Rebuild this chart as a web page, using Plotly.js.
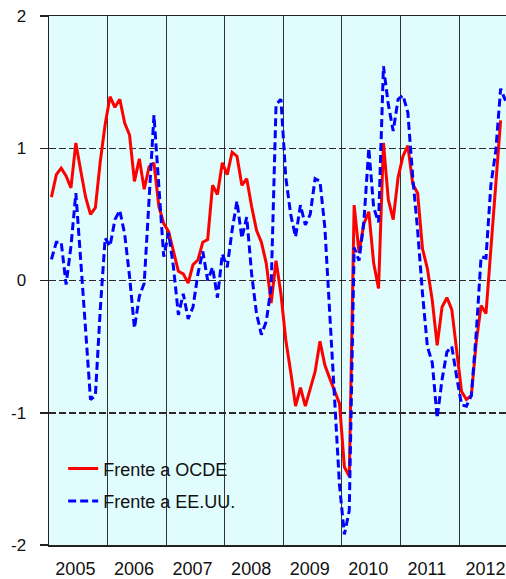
<!DOCTYPE html>
<html>
<head>
<meta charset="utf-8">
<script src="https://cdn.plot.ly/plotly-3.0.1.min.js"></script>
<style>html,body{margin:0;padding:0;background:#fff;}#chart{width:506px;height:579px;}</style>
</head>
<body>
<div id="chart"></div>
<script>
// Monthly series starting January 2005
const startYear = 2005;
const seriesNames = ['Frente a OCDE', 'Frente a EE.UU.'];
const ocde = [
  0.63, 0.80, 0.85, 0.79, 0.70, 1.04, 0.83, 0.63, 0.50, 0.55, 0.90, 1.18,
  1.39, 1.31, 1.37, 1.19, 1.10, 0.75, 0.92, 0.69, 0.86, 0.89, 0.56, 0.43,
  0.37, 0.21, 0.07, 0.05, -0.02, 0.12, 0.155, 0.29, 0.31, 0.72, 0.65, 0.89,
  0.80, 0.97, 0.94, 0.72, 0.77, 0.56, 0.38, 0.29, 0.13, -0.17, 0.15, -0.10,
  -0.45, -0.69, -0.95, -0.81, -0.95, -0.82, -0.69, -0.46, -0.64, -0.74, -0.84, -0.93,
  -1.41, -1.48, 0.57, 0.21, 0.43, 0.52, 0.13, -0.06, 1.04, 0.61, 0.46, 0.78,
  0.94, 1.02, 0.73, 0.66, 0.24, 0.09, -0.15, -0.49, -0.20, -0.13, -0.22, -0.53,
  -0.84, -0.90, -0.87, -0.47, -0.19, -0.25, 0.24, 0.72, 1.21
];
const eeuu = [
  0.16, 0.29, 0.29, -0.03, 0.26, 0.66, 0.15, -0.38, -0.90, -0.87, -0.22, 0.32,
  0.26, 0.46, 0.53, 0.35, 0.03, -0.36, -0.12, -0.02, 0.62, 1.25, 0.71, 0.18,
  0.36, 0.10, -0.26, -0.10, -0.29, -0.20, 0.05, 0.22, 0.00, 0.10, -0.13, 0.20,
  0.10, 0.38, 0.60, 0.32, 0.48, 0.05, -0.25, -0.41, -0.31, -0.05, 1.33, 1.37,
  0.78, 0.50, 0.33, 0.57, 0.42, 0.50, 0.77, 0.75, 0.40, -0.30, -0.90, -1.55,
  -1.92, -1.74, 0.25, 0.15, 0.45, 1.00, 0.55, 0.44, 1.62, 1.33, 1.13, 1.37,
  1.40, 1.27, 0.78, 0.38, -0.10, -0.50, -0.62, -1.04, -0.75, -0.54, -0.50, -0.73,
  -0.94, -0.95, -0.87, -0.40, 0.18, 0.17, 0.72, 0.98, 1.45, 1.36
];
const yearLabels = ['2005', '2006', '2007', '2008', '2009', '2010', '2011', '2012'];
const yTickVals = [-2, -1, 0, 1, 2];
const yTickText = ['-2', '-1', '0', '1', '2'];

// x position of each monthly value: middle of its month, in decimal years
function monthPositions(n) {
  const out = [];
  for (let i = 0; i < n; i++) out.push(startYear + (i + 0.5) / 12);
  return out;
}
const labelPos = yearLabels.map(y => Number(y) + 0.45);
const yearBounds = yearLabels.slice(1).map(y => Number(y));

const font = 'Liberation Sans, Arial, sans-serif';
const traces = [
  {
    x: monthPositions(ocde.length), y: ocde, name: seriesNames[0], type: 'scatter', mode: 'lines',
    line: {color: '#ff0000', width: 3}, legendgroup: 'a', hoverinfo: 'skip'
  },
  {
    x: monthPositions(eeuu.length), y: eeuu, name: seriesNames[1], type: 'scatter', mode: 'lines',
    line: {color: '#0000ff', width: 3, dash: '8px,4px'}, legendgroup: 'b', hoverinfo: 'skip'
  }
];

const layout = {
  width: 506, height: 579,
  margin: {l: 49, r: 0, t: 16, b: 34, pad: 0},
  paper_bgcolor: '#ffffff',
  plot_bgcolor: '#e0fcfc',
  font: {family: font, size: 18, color: '#111'},
  showlegend: true,
  legend: {
    x: 0.031, y: 0.179, xanchor: 'left', yanchor: 'top',
    bgcolor: 'rgba(0,0,0,0)', borderwidth: 0,
    font: {family: font, size: 18, color: '#111'},
    tracegroupgap: 6
  },
  xaxis: {
    range: [startYear, 2012.8],
    tickmode: 'array', tickvals: labelPos, ticktext: yearLabels,
    ticklabeloverflow: 'allow', ticklabelstandoff: 7,
    showgrid: false,
    minor: {tickmode: 'array', tickvals: yearBounds, showgrid: true, gridcolor: '#333', gridwidth: 1, ticks: ''},
    showline: true, mirror: true, linecolor: '#222', linewidth: 1.5,
    ticks: '', zeroline: false,
    tickfont: {family: font, size: 18, color: '#111'},
    fixedrange: true
  },
  yaxis: {
    range: [-2, 2],
    tickvals: yTickVals, ticktext: yTickText,
    showgrid: true, gridcolor: '#2a2a2a', gridwidth: 1.5, griddash: '7px,3px',
    zeroline: false,
    showline: true, mirror: false, linecolor: '#222', linewidth: 1.5,
    ticks: 'outside', ticklen: 8, tickwidth: 1.5, tickcolor: '#222',
    ticklabelstandoff: 10,
    tickfont: {family: font, size: 17, color: '#111'},
    fixedrange: true
  }
};

Plotly.newPlot('chart', traces, layout, {staticPlot: true, displayModeBar: false});
</script>
</body>
</html>
